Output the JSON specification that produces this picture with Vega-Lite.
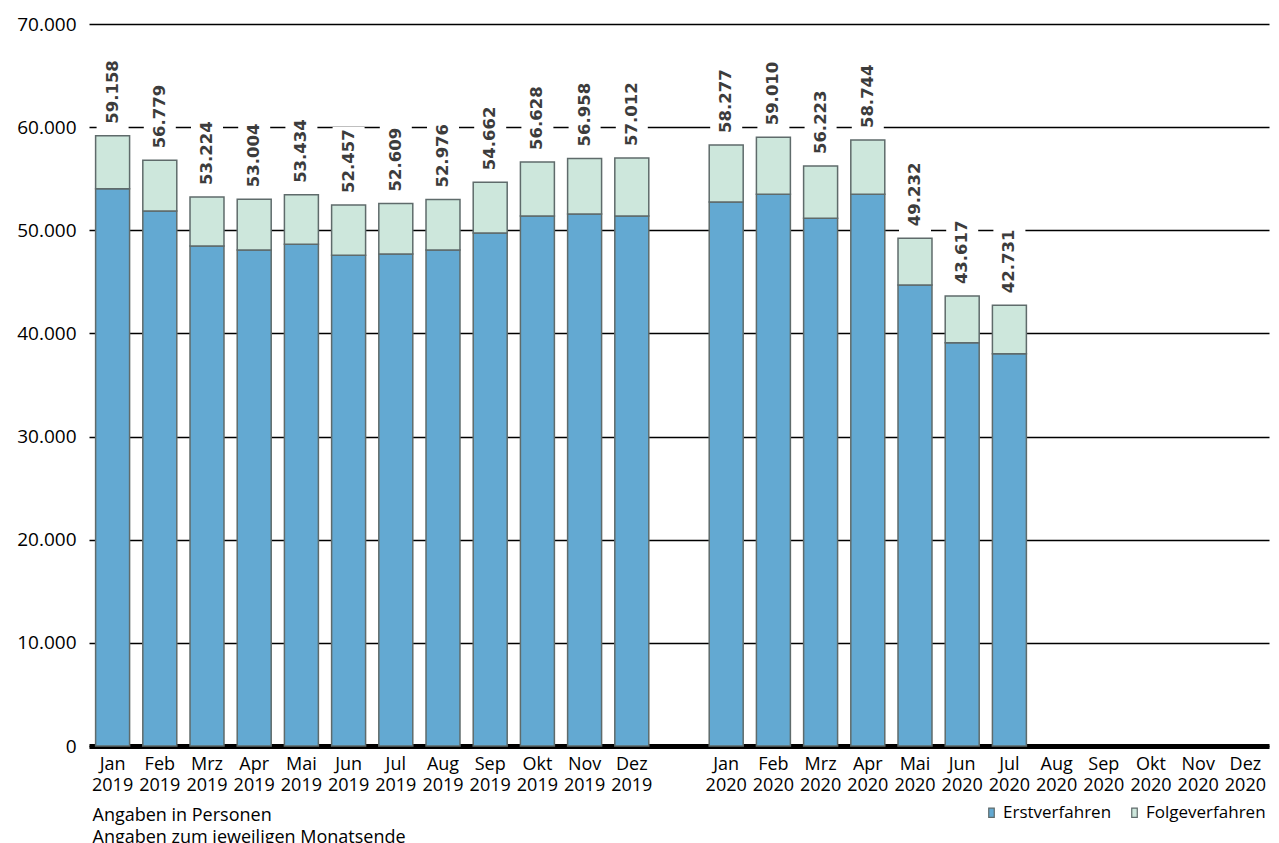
{
  "$schema": "https://vega.github.io/schema/vega-lite/v6.json",
  "autosize": {"type": "none"},
  "width": 1180,
  "height": 722,
  "padding": {"left": 89, "top": 24, "right": 10, "bottom": 97},
  "background": "white",
  "config": {
    "locale": {"number": {"decimal": ",", "thousands": ".", "grouping": [3], "currency": ["", " €"]}},
    "view": {"stroke": null},
    "font": "Open Sans"
  },
  "data": {
    "values": [
      {"m": "Jan 2019", "t": "Erstverfahren", "v": 54030}, {"m": "Jan 2019", "t": "Folgeverfahren", "v": 5128},
      {"m": "Feb 2019", "t": "Erstverfahren", "v": 51870}, {"m": "Feb 2019", "t": "Folgeverfahren", "v": 4909},
      {"m": "Mrz 2019", "t": "Erstverfahren", "v": 48480}, {"m": "Mrz 2019", "t": "Folgeverfahren", "v": 4744},
      {"m": "Apr 2019", "t": "Erstverfahren", "v": 48090}, {"m": "Apr 2019", "t": "Folgeverfahren", "v": 4914},
      {"m": "Mai 2019", "t": "Erstverfahren", "v": 48640}, {"m": "Mai 2019", "t": "Folgeverfahren", "v": 4794},
      {"m": "Jun 2019", "t": "Erstverfahren", "v": 47570}, {"m": "Jun 2019", "t": "Folgeverfahren", "v": 4887},
      {"m": "Jul 2019", "t": "Erstverfahren", "v": 47700}, {"m": "Jul 2019", "t": "Folgeverfahren", "v": 4909},
      {"m": "Aug 2019", "t": "Erstverfahren", "v": 48090}, {"m": "Aug 2019", "t": "Folgeverfahren", "v": 4886},
      {"m": "Sep 2019", "t": "Erstverfahren", "v": 49730}, {"m": "Sep 2019", "t": "Folgeverfahren", "v": 4932},
      {"m": "Okt 2019", "t": "Erstverfahren", "v": 51380}, {"m": "Okt 2019", "t": "Folgeverfahren", "v": 5248},
      {"m": "Nov 2019", "t": "Erstverfahren", "v": 51580}, {"m": "Nov 2019", "t": "Folgeverfahren", "v": 5378},
      {"m": "Dez 2019", "t": "Erstverfahren", "v": 51380}, {"m": "Dez 2019", "t": "Folgeverfahren", "v": 5632},
      {"m": "Jan 2020", "t": "Erstverfahren", "v": 52740}, {"m": "Jan 2020", "t": "Folgeverfahren", "v": 5537},
      {"m": "Feb 2020", "t": "Erstverfahren", "v": 53490}, {"m": "Feb 2020", "t": "Folgeverfahren", "v": 5520},
      {"m": "Mrz 2020", "t": "Erstverfahren", "v": 51160}, {"m": "Mrz 2020", "t": "Folgeverfahren", "v": 5063},
      {"m": "Apr 2020", "t": "Erstverfahren", "v": 53490}, {"m": "Apr 2020", "t": "Folgeverfahren", "v": 5254},
      {"m": "Mai 2020", "t": "Erstverfahren", "v": 44690}, {"m": "Mai 2020", "t": "Folgeverfahren", "v": 4542},
      {"m": "Jun 2020", "t": "Erstverfahren", "v": 39100}, {"m": "Jun 2020", "t": "Folgeverfahren", "v": 4517},
      {"m": "Jul 2020", "t": "Erstverfahren", "v": 38040}, {"m": "Jul 2020", "t": "Folgeverfahren", "v": 4691}
    ]
  },
  "encoding": {
    "x": {
      "field": "m",
      "type": "nominal",
      "scale": {
        "domain": ["Jan 2019", "Feb 2019", "Mrz 2019", "Apr 2019", "Mai 2019", "Jun 2019", "Jul 2019", "Aug 2019", "Sep 2019", "Okt 2019", "Nov 2019", "Dez 2019", "gap", "Jan 2020", "Feb 2020", "Mrz 2020", "Apr 2020", "Mai 2020", "Jun 2020", "Jul 2020", "Aug 2020", "Sep 2020", "Okt 2020", "Nov 2020", "Dez 2020"],
        "paddingInner": 0.28,
        "paddingOuter": 0.14
      },
      "axis": {
        "title": ["Angaben in Personen", "Angaben zum jeweiligen Monatsende"],
        "titleAnchor": "start",
        "titleAlign": "left",
        "titleBaseline": "top",
        "titleX": 3,
        "titleY": 60,
        "titleFontSize": 18,
        "titleFontWeight": "normal",
        "titleFont": "Open Sans",
        "titleColor": "black",
        "titleLineHeight": 22,
        "labelExpr": "datum.value == 'gap' ? '' : split(datum.value, ' ')",
        "labelAngle": 0,
        "labelFontSize": 18,
        "labelFont": "Open Sans",
        "labelColor": "black",
        "labelLineHeight": 21,
        "labelPadding": 9,
        "labelBaseline": "top",
        "ticks": false,
        "domain": true,
        "domainColor": "black",
        "domainWidth": 5,
        "grid": false
      }
    }
  },
  "layer": [
    {
      "mark": {"type": "bar", "stroke": "#5f6b6b", "strokeWidth": 1.5},
      "encoding": {
        "y": {
          "field": "v",
          "type": "quantitative",
          "stack": "zero",
          "scale": {"domain": [0, 70000], "nice": false},
          "axis": {
            "title": null,
            "values": [0, 10000, 20000, 30000, 40000, 50000, 60000, 70000],
            "format": ",.0f",
            "domain": false,
            "ticks": false,
            "grid": true,
            "gridColor": "black",
            "gridWidth": 1.5,
            "gridOpacity": 1,
            "labelFontSize": 19,
            "labelFont": "Open Sans",
            "labelColor": "black",
            "labelPadding": 13
          }
        },
        "color": {
          "field": "t",
          "type": "nominal",
          "scale": {"domain": ["Erstverfahren", "Folgeverfahren"], "range": ["#63a9d2", "#cde7dc"]},
          "legend": {
            "title": null,
            "orient": "none",
            "legendX": 894,
            "legendY": 780,
            "direction": "horizontal",
            "symbolType": "M-0.6,-1H0.6V1H-0.6Z",
            "symbolSize": 85,
            "symbolStrokeColor": "#5f6b6b",
            "symbolStrokeWidth": 1.2,
            "labelFontSize": 17,
            "labelFont": "Open Sans",
            "labelColor": "black",
            "labelOffset": 3,
            "columnPadding": 14
          }
        },
        "order": {"field": "t", "sort": "ascending"}
      }
    },
    {
      "transform": [{"aggregate": [{"op": "sum", "field": "v", "as": "total"}], "groupby": ["m"]}],
      "mark": {"type": "point", "shape": "M-1.6,-0.35H1.6V-7.8H-1.6Z", "size": 400, "filled": true, "fill": "white", "opacity": 1, "strokeWidth": 0},
      "encoding": {
        "y": {"field": "total", "type": "quantitative"}
      }
    },
    {
      "transform": [{"aggregate": [{"op": "sum", "field": "v", "as": "total"}], "groupby": ["m"]}],
      "mark": {"type": "text", "angle": 270, "align": "left", "baseline": "middle", "dx": 12, "font": "DejaVu Sans", "fontSize": 16.5, "fontWeight": "bold", "fill": "#3c3c3c"},
      "encoding": {
        "y": {"field": "total", "type": "quantitative"},
        "text": {"field": "total", "type": "quantitative", "format": ",.0f"}
      }
    }
  ]
}
